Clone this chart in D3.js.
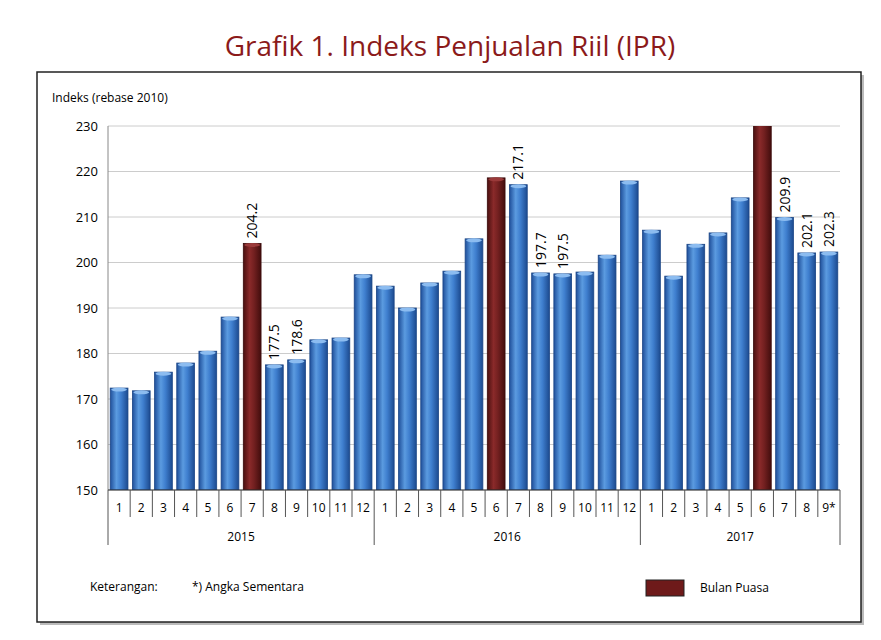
<!DOCTYPE html>
<html><head><meta charset="utf-8">
<script src="https://cdn.jsdelivr.net/npm/d3@7"></script>
<style>body{margin:0;background:#fff;font-family:"Open Sans",sans-serif}</style>
</head><body><svg id="c" width="881" height="640"></svg>
<script>
const years = ['2015', '2016', '2017'];
const months = ['1','2','3','4','5','6','7','8','9','10','11','12',
                '1','2','3','4','5','6','7','8','9','10','11','12',
                '1','2','3','4','5','6','7','8','9*'];
const values = [172.4,171.8,175.9,177.9,180.5,188.0,204.2,177.5,178.6,183.0,183.4,197.3,
                194.8,190.0,195.5,198.1,205.2,218.6,217.1,197.7,197.5,197.9,201.6,217.9,
                207.1,197.0,204.0,206.5,214.2,232.0,209.9,202.1,202.3];
const puasa = [6, 17, 29];
const labelled = [6, 7, 8, 18, 19, 20, 30, 31, 32];
const yTicks = [150,160,170,180,190,200,210,220,230];

const svg = d3.select('#c');
const defs = svg.append('defs');
function grad(id, stops) {
  const g = defs.append('linearGradient').attr('id', id).attr('x1', 0).attr('x2', 1);
  stops.forEach(([o, c]) => g.append('stop').attr('offset', o).attr('stop-color', c));
}
grad('blue', [[0,'#1f4f9a'],[0.35,'#5b9be0'],[0.6,'#3f7fcf'],[1,'#1c4a8f']]);
grad('red', [[0,'#4a1010'],[0.35,'#8a2a2a'],[0.6,'#732020'],[1,'#420d0d']]);

svg.append('text').attr('x', 450).attr('y', 56).attr('text-anchor', 'middle')
  .attr('font-size', 28).attr('fill', '#8b1a1a').text('Grafik 1. Indeks Penjualan Riil (IPR)');

svg.append('rect').attr('x', 40).attr('y', 75).attr('width', 824).attr('height', 550).attr('fill', '#bbb');
svg.append('rect').attr('x', 37).attr('y', 72).attr('width', 824).attr('height', 550)
  .attr('fill', '#fff').attr('stroke', '#222').attr('stroke-width', 1.5);

const x0 = 108, x1 = 840;
const x = d3.scaleBand().domain(d3.range(values.length)).range([x0, x1]).paddingInner(0.2).paddingOuter(0.1);
const y = d3.scaleLinear().domain([150, 230]).range([490, 126]);

svg.append('text').attr('x', 52).attr('y', 102).attr('font-size', 12).text('Indeks (rebase 2010)');

const yAxis = svg.append('g').attr('transform', `translate(${x0},0)`)
  .call(d3.axisLeft(y).tickValues(yTicks).tickSize(0).tickPadding(10));
yAxis.select('.domain').remove();
yAxis.selectAll('text').attr('font-size', 13).attr('fill', '#000').attr('font-family', 'Open Sans');
svg.append('g').selectAll('line').data(yTicks).join('line')
  .attr('x1', x0).attr('x2', x1).attr('y1', d => y(d)).attr('y2', d => y(d))
  .attr('stroke', '#ccc');

svg.append('line').attr('x1', x0).attr('x2', x0).attr('y1', 126).attr('y2', 490).attr('stroke', '#888');

const clipId = 'clip';
defs.append('clipPath').attr('id', clipId).append('rect').attr('x', x0).attr('y', 126).attr('width', x1 - x0).attr('height', 364);

const bars = svg.append('g').attr('clip-path', `url(#${clipId})`);
bars.selectAll('rect').data(values).join('rect')
  .attr('x', (d, i) => x(i)).attr('width', x.bandwidth())
  .attr('y', d => y(d)).attr('height', d => y(150) - y(d))
  .attr('fill', (d, i) => puasa.includes(i) ? 'url(#red)' : 'url(#blue)')
  .attr('stroke', (d, i) => puasa.includes(i) ? '#3a0a0a' : '#1b4585').attr('stroke-width', 0.8);
bars.selectAll('ellipse').data(values).join('ellipse')
  .attr('cx', (d, i) => x(i) + x.bandwidth() / 2).attr('cy', d => y(d) + 1.5)
  .attr('rx', x.bandwidth() / 2 - 1).attr('ry', 2)
  .attr('fill', (d, i) => puasa.includes(i) ? '#9a3a3a' : '#8cbcf0');

svg.append('g').selectAll('text').data(labelled).join('text')
  .attr('transform', i => `translate(${x(i) + x.bandwidth() / 2 + 5},${y(values[i]) - 5}) rotate(-90)`)
  .attr('font-size', 14).text(i => values[i].toFixed(1));

// category rows
const step = (x1 - x0) / values.length;
const g = svg.append('g');
g.append('line').attr('x1', x0).attr('x2', x1).attr('y1', 490).attr('y2', 490).attr('stroke', '#333');
g.selectAll('line.m').data(d3.range(values.length + 1)).join('line').attr('class', 'm')
  .attr('x1', i => x0 + i * step).attr('x2', i => x0 + i * step)
  .attr('y1', 490).attr('y2', i => (i % 12 === 0 || i === values.length) ? 545 : 517).attr('stroke', '#555');
g.selectAll('text.m').data(months).join('text').attr('class', 'm')
  .attr('x', (d, i) => x0 + (i + 0.5) * step).attr('y', 512).attr('text-anchor', 'middle')
  .attr('font-size', 12).text(d => d);
g.selectAll('text.y').data(years).join('text').attr('class', 'y')
  .attr('x', (d, i) => { const a = i * 12, b = Math.min(a + 12, values.length); return x0 + (a + b) / 2 * step; })
  .attr('y', 541).attr('text-anchor', 'middle').attr('font-size', 12).text(d => d);

svg.append('text').attr('x', 90).attr('y', 591).attr('font-size', 12).text('Keterangan:');
svg.append('text').attr('x', 192).attr('y', 591).attr('font-size', 12).text('*) Angka Sementara');
svg.append('rect').attr('x', 646).attr('y', 580).attr('width', 38).attr('height', 16).attr('fill', '#6e1a1a').attr('stroke', '#222');
svg.append('text').attr('x', 700).attr('y', 592).attr('font-size', 12).text('Bulan Puasa');
</script></body></html>
